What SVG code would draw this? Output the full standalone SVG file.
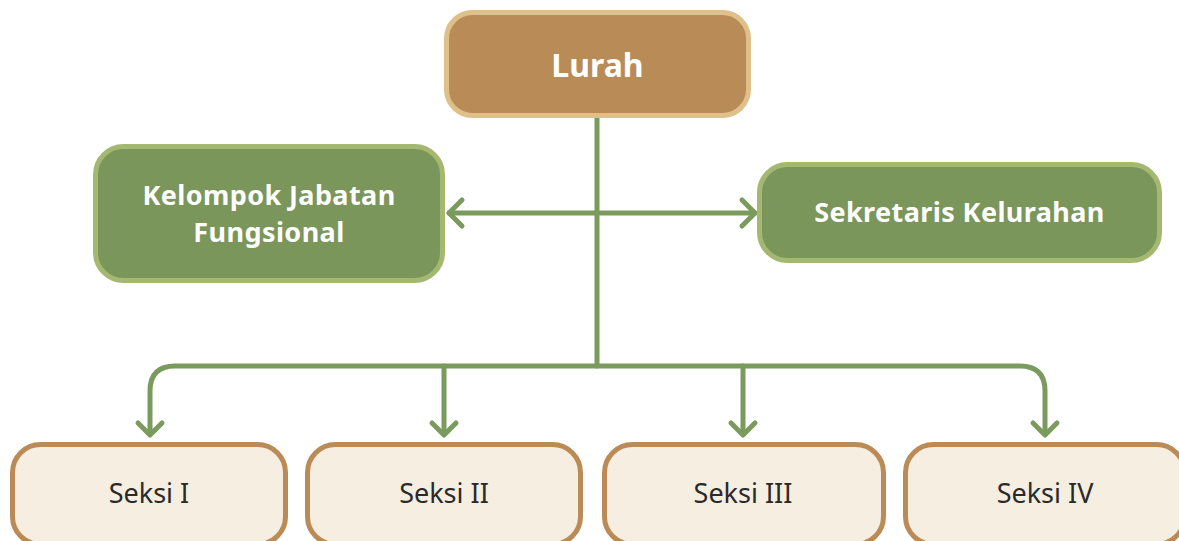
<svg xmlns="http://www.w3.org/2000/svg" width="1179" height="541" viewBox="0 0 1179 541">
<style>
.conn{fill:none;stroke:#7a9a5e;stroke-width:5;stroke-linecap:round;stroke-linejoin:round}
.head{fill:none;stroke:#7a9a5e;stroke-width:5;stroke-linecap:round;stroke-linejoin:round}
.top{fill:#b98b57;stroke:#dfc08a;stroke-width:5}
.mid{fill:#7a965b;stroke:#a5b872;stroke-width:5}
.sek{fill:#f6eee0;stroke:#bb8b57;stroke-width:5}
.bt{font-family:"Noto Sans","Open Sans","DejaVu Sans",sans-serif;font-weight:bold;fill:#ffffff;text-anchor:middle}
.rt{font-family:"Noto Sans","Open Sans","DejaVu Sans",sans-serif;fill:#2a2a2a;text-anchor:middle;font-size:27px}
</style>
<rect width="1179" height="541" fill="#ffffff"/>
<g id="connectors">
<path class="conn" d="M597,118 V366"/>
<path class="conn" d="M449,213 H755"/>
<path class="head" d="M462,200 L449,213 L462,226"/>
<path class="head" d="M742,200 L755,213 L742,226"/>
<path class="conn" d="M150,434 V391 Q150,366 175,366 H1020 Q1045,366 1045,391 V434"/>
<path class="conn" d="M444,366 V434"/>
<path class="conn" d="M743,366 V434"/>
<path class="head" d="M138,423 L150,435 L162,423"/>
<path class="head" d="M432,423 L444,435 L456,423"/>
<path class="head" d="M731,423 L743,435 L755,423"/>
<path class="head" d="M1033,423 L1045,435 L1057,423"/>
</g>
<g id="lurah">
<rect class="top" x="446.5" y="12.5" width="302" height="103" rx="26"/>
<text class="bt" x="597.5" y="77" font-size="32">Lurah</text>
</g>
<g id="kelompok">
<rect class="mid" x="95.5" y="146.5" width="347" height="134" rx="28"/>
<text class="bt" x="269" y="205" font-size="27" letter-spacing="0.4">Kelompok Jabatan</text>
<text class="bt" x="269" y="242" font-size="27" letter-spacing="0.4">Fungsional</text>
</g>
<g id="sekretaris">
<rect class="mid" x="759.5" y="164.5" width="400" height="96" rx="28"/>
<text class="bt" x="959.5" y="222" font-size="27" letter-spacing="0.4">Sekretaris Kelurahan</text>
</g>
<g id="seksi1">
<rect class="sek" x="12.5" y="444.5" width="273" height="100" rx="28"/>
<text class="rt" x="149" y="503">Seksi I</text>
</g>
<g id="seksi2">
<rect class="sek" x="307.5" y="444.5" width="273" height="100" rx="28"/>
<text class="rt" x="444" y="503">Seksi II</text>
</g>
<g id="seksi3">
<rect class="sek" x="604.5" y="444.5" width="279" height="100" rx="28"/>
<text class="rt" x="743" y="503">Seksi III</text>
</g>
<g id="seksi4">
<rect class="sek" x="905.5" y="444.5" width="279" height="100" rx="28"/>
<text class="rt" x="1045" y="503">Seksi IV</text>
</g>
</svg>
